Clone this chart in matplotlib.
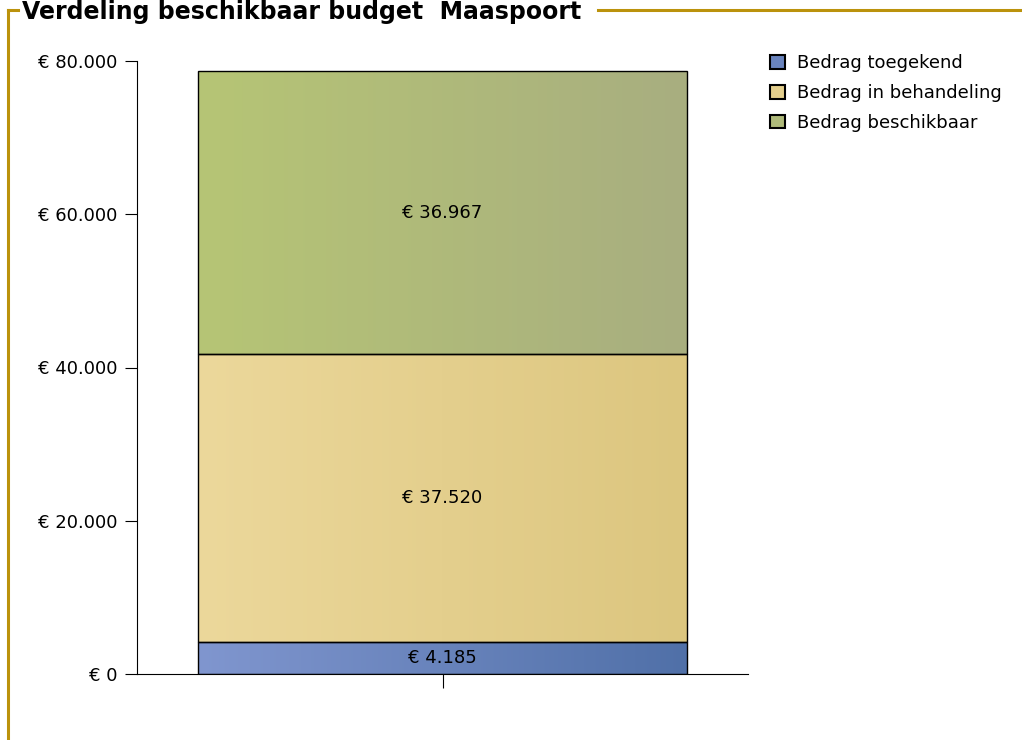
import numpy as np
import matplotlib.pyplot as plt
from matplotlib.colors import LinearSegmentedColormap
from matplotlib.lines import Line2D
from matplotlib.patches import Patch

series = ['Bedrag toegekend', 'Bedrag in behandeling', 'Bedrag beschikbaar']
values = [4185, 37520, 36967]
left_colors = ['#8096cf', '#ecd89b', '#b6c575']
right_colors = ['#5070a8', '#dcc67f', '#a8ae80']
legend_colors = ['#6a84be', '#e4cf8d', '#afba7a']
yticks = [0, 20000, 40000, 60000, 80000]


def euro(v):
    return '€ ' + f'{v:,.0f}'.replace(',', '.')


fig = plt.figure(figsize=(10.22, 7.4), dpi=100)
ax = fig.add_axes([137 / 1022, 1 - 674 / 740, 611 / 1022, 613 / 740])

bottom = 0
for name, v, c1, c2 in zip(series, values, left_colors, right_colors):
    bar = ax.bar(0, v, width=0.8, bottom=bottom, facecolor='none',
                 edgecolor='black', linewidth=1, zorder=3)[0]
    cmap = LinearSegmentedColormap.from_list(name, [c1, c2])
    grad = np.linspace(0, 1, 256).reshape(1, -1)
    im = ax.imshow(grad, cmap=cmap, aspect='auto', zorder=2,
                   extent=[bar.get_x(), bar.get_x() + bar.get_width(),
                           bottom, bottom + v])
    im.set_clip_path(bar)
    ax.text(0, bottom + v / 2, euro(v), ha='center', va='center',
            fontsize=13, zorder=4)
    bottom += v

ax.set_xlim(-0.5, 0.5)
ax.set_ylim(0, 80000)
ax.set_yticks(yticks)
ax.set_yticklabels([euro(t) for t in yticks], fontsize=13)
ax.set_xticks([0])
ax.set_xticklabels([''])
ax.tick_params(axis='y', length=9, width=0.8, pad=5)
ax.tick_params(axis='x', length=10, width=0.8)
ax.spines['top'].set_visible(False)
ax.spines['right'].set_visible(False)
ax.spines['left'].set_linewidth(0.8)
ax.spines['bottom'].set_linewidth(0.8)

handles = [Patch(facecolor=c, edgecolor='black', linewidth=1.5) for c in legend_colors]
fig.legend(handles, series, loc='upper left', bbox_to_anchor=(763 / 1022, 1 - 47 / 740),
           borderaxespad=0, frameon=False, fontsize=13, handlelength=0.8,
           handleheight=0.8, handletextpad=0.7, labelspacing=0.65)

# groupbox frame
gold = '#bb920c'
fig.add_artist(Line2D([8 / 1022, 8 / 1022], [0, 1 - 10 / 740], color=gold, lw=2.2))
fig.add_artist(Line2D([8 / 1022, 18 / 1022], [1 - 10 / 740, 1 - 10 / 740], color=gold, lw=2.2))
fig.add_artist(Line2D([598 / 1022, 1], [1 - 10 / 740, 1 - 10 / 740], color=gold, lw=2.2))
fig.text(22 / 1022, 1 - 12 / 740, 'Verdeling beschikbaar budget  Maaspoort',
         fontsize=17, fontweight='bold', ha='left', va='center')

fig.savefig('out.png', dpi=100)
